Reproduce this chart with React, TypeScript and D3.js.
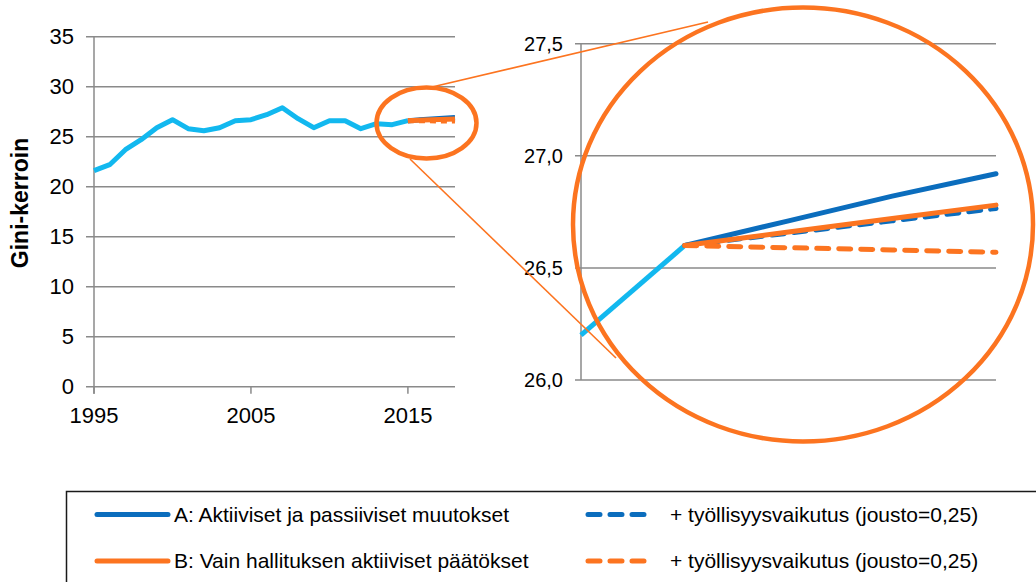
import React from "react";
import * as d3 from "d3";

// historical Gini
const years = [1995, 1996, 1997, 1998, 1999, 2000, 2001, 2002, 2003, 2004, 2005, 2006, 2007, 2008, 2009, 2010, 2011, 2012, 2013, 2014, 2015];
const gini = [21.6, 22.2, 23.7, 24.7, 25.9, 26.7, 25.8, 25.6, 25.9, 26.6, 26.7, 27.2, 27.9, 26.8, 25.9, 26.6, 26.6, 25.8, 26.3, 26.2, 26.6];

// scenarios
const projYears = [2015, 2016, 2017, 2018];
const scenA = [26.6, 26.71, 26.82, 26.92];
const scenAEmp = [26.6, 26.655, 26.71, 26.765];
const scenB = [26.6, 26.66, 26.72, 26.78];
const scenBEmp = [26.6, 26.59, 26.58, 26.57];

const leftTicks = [0, 5, 10, 15, 20, 25, 30, 35];
const leftYearTicks = [1995, 2005, 2015];
const rightTicks = [26.0, 26.5, 27.0, 27.5];

const legendItems = [
  { label: "A: Aktiiviset ja passiiviset muutokset", color: "blue", dashed: false },
  { label: "+ työllisyysvaikutus (jousto=0,25)", color: "blue", dashed: true },
  { label: "B: Vain hallituksen aktiiviset päätökset", color: "orange", dashed: false },
  { label: "+ työllisyysvaikutus (jousto=0,25)", color: "orange", dashed: true },
];

const colors: Record<string, string> = {
  cyan: "#12b8ef",
  blue: "#0b6dbd",
  orange: "#fc7420",
};
const grid = "#8a8a8a";
const font = "'Liberation Sans', Arial, sans-serif";
const dash = "12,10";

export default function App() {
  // left chart
  const xL = d3.scaleLinear().domain([1995, 2018]).range([94, 455]);
  const yL = d3.scaleLinear().domain([0, 35]).range([386.7, 36.7]);
  // zoomed chart
  const xR = d3.scaleLinear().domain([2014, 2018]).range([581, 996]);
  const yR = d3.scaleLinear().domain([26, 27.5]).range([380, 43.7]);

  const lineL = d3.line<[number, number]>().x(d => xL(d[0])).y(d => yL(d[1]));
  const lineR = d3.line<[number, number]>().x(d => xR(d[0])).y(d => yR(d[1]));

  const hist = years.map((y, i) => [y, gini[i]] as [number, number]);
  const histR = hist.filter(d => d[0] >= 2014);
  const proj = (vals: number[]) => projYears.map((y, i) => [y, vals[i]] as [number, number]);

  const series = [
    { vals: scenA, color: colors.blue, dashed: false },
    { vals: scenAEmp, color: colors.blue, dashed: true },
    { vals: scenB, color: colors.orange, dashed: false },
    { vals: scenBEmp, color: colors.orange, dashed: true },
  ];

  return (
    <svg width={1036} height={582} style={{ position: "absolute", left: 0, top: 0, background: "#fff" }} fontFamily={font}>
      {/* left chart */}
      <g>
        {leftTicks.map(t => (
          <g key={t}>
            <line x1={86} x2={455} y1={yL(t)} y2={yL(t)} stroke={grid} strokeWidth={1.5} />
            <text x={74} y={yL(t)} dy="0.35em" textAnchor="end" fontSize={22} fill="#000">{t}</text>
          </g>
        ))}
        <line x1={94} x2={94} y1={yL(35)} y2={yL(0) + 7} stroke={grid} strokeWidth={1.5} />
        {leftYearTicks.map(t => (
          <g key={t}>
            <line x1={xL(t)} x2={xL(t)} y1={yL(0)} y2={yL(0) + 7} stroke={grid} strokeWidth={1.5} />
            <text x={xL(t)} y={423} textAnchor="middle" fontSize={22} fill="#000">{t}</text>
          </g>
        ))}
        <text transform="translate(28,203) rotate(-90)" textAnchor="middle" fontSize={23} fontWeight="bold" fill="#000">Gini-kerroin</text>
        <path d={lineL(hist) || ""} fill="none" stroke={colors.cyan} strokeWidth={5} strokeLinejoin="round" />
        {series.map((s, i) => (
          <path key={i} d={lineL(proj(s.vals)) || ""} fill="none" stroke={s.color} strokeWidth={5}
            strokeDasharray={s.dashed ? "6,5" : undefined} />
        ))}
      </g>

      {/* right zoomed chart */}
      <g>
        {rightTicks.map(t => (
          <g key={t}>
            <line x1={575} x2={996} y1={yR(t)} y2={yR(t)} stroke={grid} strokeWidth={1.5} />
            <text x={563} y={yR(t)} dy="0.35em" textAnchor="end" fontSize={20} fill="#000">{t.toFixed(1).replace(".", ",")}</text>
          </g>
        ))}
        <line x1={581} x2={581} y1={yR(27.5)} y2={yR(26)} stroke={grid} strokeWidth={1.5} />
        <path d={lineR(histR) || ""} fill="none" stroke={colors.cyan} strokeWidth={5} />
        {series.map((s, i) => (
          <path key={i} d={lineR(proj(s.vals)) || ""} fill="none" stroke={s.color} strokeWidth={5}
            strokeLinecap="round" strokeDasharray={s.dashed ? dash : undefined} />
        ))}
      </g>

      {/* magnifier */}
      <line x1={432} y1={87} x2={708} y2={22} stroke={colors.orange} strokeWidth={1.6} />
      <line x1={410} y1={159} x2={616} y2={358} stroke={colors.orange} strokeWidth={1.6} />
      <ellipse cx={426.5} cy={123} rx={50} ry={35.5} fill="none" stroke={colors.orange} strokeWidth={4.5} />
      <ellipse cx={803} cy={224.5} rx={230} ry={217} fill="none" stroke={colors.orange} strokeWidth={4.5} />

      {/* legend */}
      <rect x={66.5} y={491.5} width={1000} height={120} fill="none" stroke="#1a1a1a" strokeWidth={1.5} />
      {legendItems.map((d, i) => {
        const col = i % 2;
        const row = Math.floor(i / 2);
        const cy = 514.5 + row * 46.5;
        const x0 = col === 0 ? 97 : 588;
        const x1 = col === 0 ? 168 : 650;
        const tx = col === 0 ? 174 : 670;
        return (
          <g key={i}>
            <line x1={x0} x2={x1} y1={cy} y2={cy} stroke={colors[d.color]} strokeWidth={5} strokeLinecap="round"
              strokeDasharray={d.dashed ? dash : undefined} />
            <text x={tx} y={cy} dy="0.35em" fontSize={21} fill="#000">{d.label}</text>
          </g>
        );
      })}
    </svg>
  );
}
